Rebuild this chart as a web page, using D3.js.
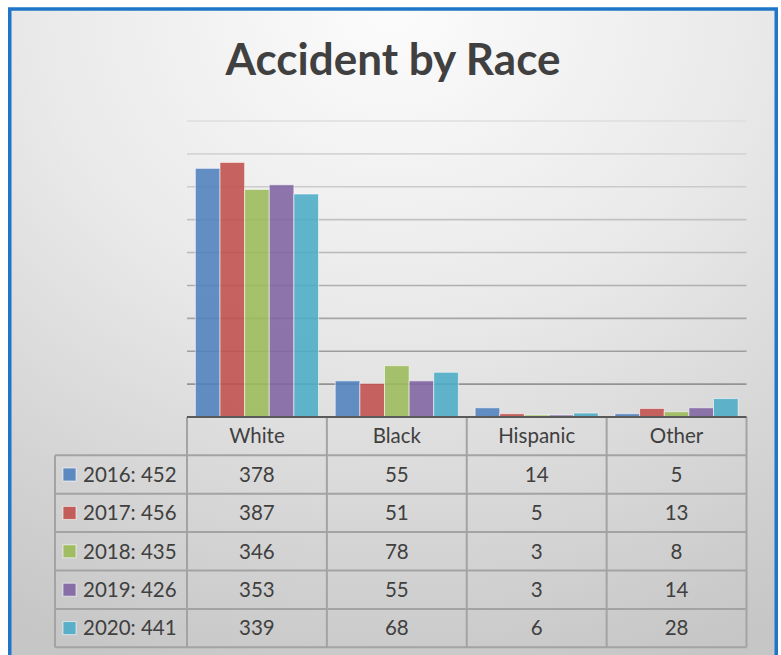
<!DOCTYPE html>
<html>
<head>
<meta charset="utf-8">
<script src="https://cdn.jsdelivr.net/npm/d3@7"></script>
<style>
  html, body { margin: 0; padding: 0; background: #ffffff; }
  svg { display: block; }
  text { font-family: Lato, "Open Sans", sans-serif; }
</style>
</head>
<body>
<div id="chart"></div>
<script>
// ---- data ----
const title = "Accident by Race";
const categories = ["White", "Black", "Hispanic", "Other"];
const years = ["2016", "2017", "2018", "2019", "2020"];
const yearTotals = [452, 456, 435, 426, 441];
const values2016 = [378, 55, 14, 5];
const values2017 = [387, 51, 5, 13];
const values2018 = [346, 78, 3, 8];
const values2019 = [353, 55, 3, 14];
const values2020 = [339, 68, 6, 28];
const yTicks = [0, 50, 100, 150, 200, 250, 300, 350, 400, 450];

const seriesValues = [values2016, values2017, values2018, values2019, values2020];
const colors = ["#4f81bd", "#c0504d", "#9bbb59", "#8064a2", "#4bacc6"];

const W = 781, H = 655;
const svg = d3.select("#chart").append("svg").attr("width", W).attr("height", H);

const defs = svg.append("defs");
const bg = defs.append("radialGradient").attr("id", "bg")
  .attr("cx", "50%").attr("cy", "0%").attr("r", "105%").attr("fx", "50%").attr("fy", "0%");
bg.append("stop").attr("offset", "0").attr("stop-color", "#fcfcfc");
bg.append("stop").attr("offset", "0.45").attr("stop-color", "#e9e9e9");
bg.append("stop").attr("offset", "1").attr("stop-color", "#c6c6c6");

// frame
svg.append("rect").attr("x", 9.75).attr("y", 9).attr("width", 766.5).attr("height", 660)
  .attr("fill", "url(#bg)").attr("stroke", "#1f75c8").attr("stroke-width", 3.5);

// title
svg.append("text").attr("x", 393).attr("y", 75).attr("text-anchor", "middle")
  .attr("font-size", 44).attr("font-weight", 700).attr("fill", "#404040").text(title);

// scales
const plotLeft = 187, plotRight = 746.5, y0 = 417, yTop = 121;
const x = d3.scaleBand().domain(categories).range([plotLeft, plotRight]).paddingInner(0).paddingOuter(0);
const xSub = d3.scaleBand().domain(years).range([0, x.bandwidth()]).paddingInner(0).paddingOuter(0.34);
const y = d3.scaleLinear().domain([0, 450]).range([y0, yTop]);

// gridlines
const gridColor = d3.interpolateRgb("#dedede", "#8a8a8a");
svg.append("g").selectAll("line").data(yTicks.filter(t => t > 0)).join("line")
  .attr("x1", plotLeft).attr("x2", plotRight)
  .attr("y1", d => y(d)).attr("y2", d => y(d))
  .attr("stroke", d => gridColor(1 - d / 450)).attr("stroke-width", 1.6);

// bars
const rows = years.map((yr, i) => ({ year: yr, total: yearTotals[i], vals: seriesValues[i], color: colors[i] }));
const barG = svg.append("g");
rows.forEach(r => {
  barG.append("g").selectAll("rect").data(categories.map((c, j) => ({ cat: c, v: r.vals[j] }))).join("rect")
    .attr("x", d => x(d.cat) + xSub(r.year))
    .attr("y", d => y(d.v))
    .attr("width", xSub.bandwidth())
    .attr("height", d => y0 - y(d.v))
    .attr("fill", r.color).attr("fill-opacity", 0.88)
    .attr("stroke", "#ffffff").attr("stroke-opacity", 0.55).attr("stroke-width", 1);
});

// data table
const rowH = 38.4;
const headTop = y0, headBottom = 455.3;
const tableBottom = headBottom + rowH * years.length;
const legendLeft = 55;
const lineColor = "#a3a3a3";
const tbl = svg.append("g");

// horizontal lines
const hLines = d3.range(years.length + 1).map(i => headBottom + i * rowH);
tbl.selectAll("line.h").data(hLines).join("line").attr("class", "h")
  .attr("x1", legendLeft).attr("x2", plotRight)
  .attr("y1", d => d).attr("y2", d => d)
  .attr("stroke", lineColor).attr("stroke-width", 2);
// vertical lines of category columns
const vXs = categories.map(c => x(c)).concat([plotRight]);
tbl.selectAll("line.v").data(vXs).join("line").attr("class", "v")
  .attr("x1", d => d).attr("x2", d => d).attr("y1", headTop).attr("y2", tableBottom)
  .attr("stroke", lineColor).attr("stroke-width", 2);
tbl.append("line").attr("x1", legendLeft).attr("x2", legendLeft)
  .attr("y1", headBottom).attr("y2", tableBottom).attr("stroke", lineColor).attr("stroke-width", 2);

// axis line
svg.append("line").attr("x1", plotLeft).attr("x2", plotRight).attr("y1", y0).attr("y2", y0)
  .attr("stroke", "#5a5a5a").attr("stroke-width", 2);

// header labels
tbl.selectAll("text.head").data(categories).join("text").attr("class", "head")
  .attr("x", d => x(d) + x.bandwidth() / 2)
  .attr("y", (headTop + headBottom) / 2 + 7.3)
  .attr("text-anchor", "middle").attr("font-size", 20.5).attr("fill", "#404040")
  .text(d => d);

// rows
rows.forEach((r, i) => {
  const cy = headBottom + i * rowH + rowH / 2;
  tbl.append("rect").attr("x", 63).attr("y", cy - 6.5).attr("width", 13).attr("height", 13)
    .attr("fill", r.color).attr("fill-opacity", 0.9)
    .attr("stroke", "#ffffff").attr("stroke-opacity", 0.6).attr("stroke-width", 1);
  tbl.append("text").attr("x", 83).attr("y", cy + 7.3)
    .attr("font-size", 20.5).attr("fill", "#404040").text(`${r.year}: ${r.total}`);
  tbl.append("g").selectAll("text").data(categories.map((c, j) => ({ cat: c, v: r.vals[j] }))).join("text")
    .attr("x", d => x(d.cat) + x.bandwidth() / 2).attr("y", cy + 7.3)
    .attr("text-anchor", "middle").attr("font-size", 20.5).attr("fill", "#404040")
    .text(d => d.v);
});
</script>
</body>
</html>
